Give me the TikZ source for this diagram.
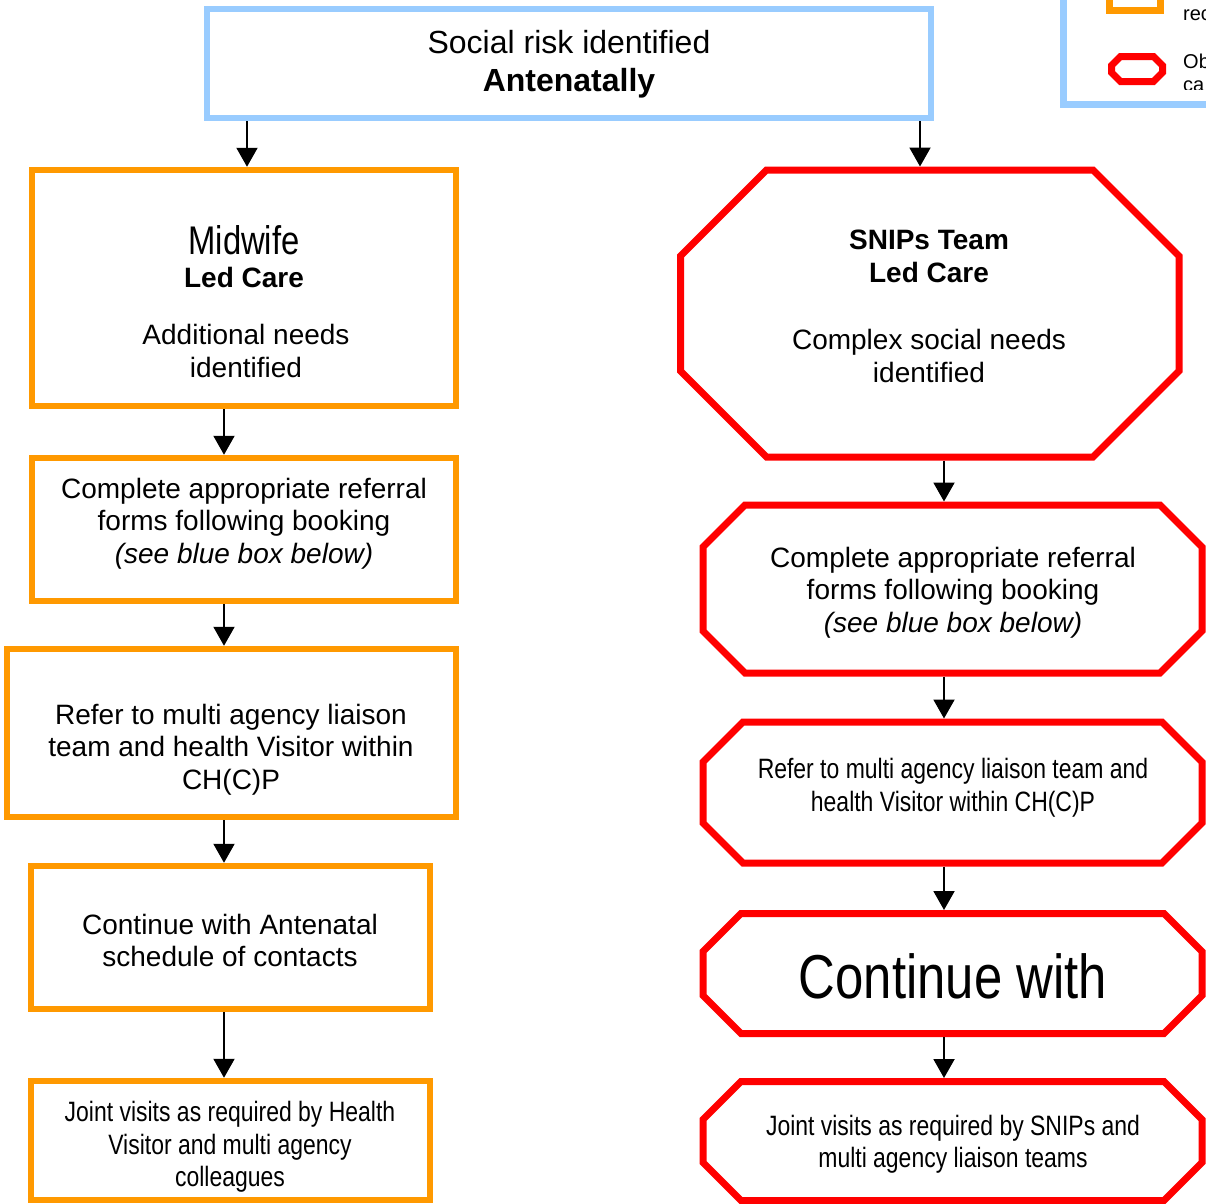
\documentclass[tikz,border=0pt]{standalone}
\usepackage{fontspec}
\setmainfont{Liberation Sans}
\newfontfamily\narrowf[FakeStretch=0.82]{Liberation Sans}
\usetikzlibrary{arrows.meta,calc}
\definecolor{borange}{RGB}{255,153,0}
\definecolor{bred}{RGB}{255,0,0}
\definecolor{bblue}{RGB}{153,204,255}
\newcommand\octoframe[2]{\draw[redline] ([xshift={3.5pt+#2},yshift=-3.5pt]#1.north west) -- ([xshift={-3.5pt-#2},yshift=-3.5pt]#1.north east) -- ([xshift=-3.5pt,yshift={-3.5pt-#2}]#1.north east) -- ([xshift=-3.5pt,yshift={3.5pt+#2}]#1.south east) -- ([xshift={-3.5pt-#2},yshift=3.5pt]#1.south east) -- ([xshift={3.5pt+#2},yshift=3.5pt]#1.south west) -- ([xshift=3.5pt,yshift={3.5pt+#2}]#1.south west) -- ([xshift=3.5pt,yshift={-3.5pt-#2}]#1.north west) -- cycle;}
\begin{document}
\begin{tikzpicture}[x=1pt,y=-1pt,
  obox/.style={draw=borange,line width=6.5pt,inner sep=0pt,shape=rectangle},
  obound/.style={inner sep=0pt,outer sep=0pt,shape=rectangle},
  redline/.style={draw=bred,line width=7pt,line join=miter},
  txt/.style={align=center,font=\fontsize{28}{32.5}\selectfont,inner sep=0pt},
  btxt/.style={align=center,font=\fontsize{28}{33}\selectfont\bfseries,inner sep=0pt},
  ntxt/.style={align=center,font=\narrowf\fontsize{28}{32.5}\selectfont,inner sep=0pt},
  arr/.style={-{Triangle[length=19pt,width=21pt]},line width=2pt}]

\useasboundingbox (0,0) rectangle (1206,1203);
\clip (0,0) rectangle (1206,1203);

\coordinate (xa) at (247,0);
\coordinate (xb) at (920,0);
\coordinate (xl) at (224,0);
\coordinate (xr) at (944,0);

% top box
\node[draw=bblue,line width=6pt,inner sep=0pt,minimum width=724pt,minimum height=109pt] (top) at (569,63.5) {};
\node[align=center,font=\fontsize{32}{38}\selectfont,inner sep=0pt] (toptxt) at (569,64.5) {Social risk identified\\\textbf{Antenatally}};

% legend (cropped)
\node[draw=bblue,line width=7pt,inner sep=0pt,minimum width=166.5pt,minimum height=124pt] (legend) at (1146.75,42) {};
\node[draw=borange,line width=7pt,inner sep=0pt,minimum width=51pt,minimum height=40.5pt] (lorange) at (1135,-9.75) {};
\node[obound,minimum width=58pt,minimum height=32pt] (lred) at (1137,69) {};
\octoframe{lred}{9pt}
\begin{scope}
\clip (1170,0) rectangle (1206,89);
\node[anchor=base west,inner sep=0pt,font=\fontsize{20}{23}\selectfont] (l1) at (1183,20) {rec};
\node[anchor=base west,inner sep=0pt,font=\fontsize{20}{23}\selectfont] (l2) at (1183,68) {Ob};
\node[anchor=base west,inner sep=0pt,font=\fontsize{20}{23}\selectfont] (l3) at (1183,91) {ca};
\end{scope}

% left column
\node[obox,minimum width=424pt,minimum height=236pt] (mw) at (244,288) {};
\node[inner sep=0pt,font=\narrowf\fontsize{40}{44}\selectfont] (mwt1) at (244,240) {Midwife};
\node[btxt] (mwt2) at (244,277) {Led Care};
\node[txt] (mwt3) at (246,351) {Additional needs\\identified};

\node[obox,minimum width=424pt,minimum height=143pt] (cf) at (244,529.5) {};
\node[txt] (cft) at (244,523.5) {Complete appropriate referral\\forms following booking\\\textit{(see blue box below)}};

\node[obox,minimum width=449pt,minimum height=168pt] (rf) at (231.5,733) {};
\node[txt] (rft) at (231,749.5) {Refer to multi agency liaison\\team and health Visitor within\\CH(C)P};

\node[obox,minimum width=399pt,minimum height=143pt] (ct) at (230.5,937.5) {};
\node[txt] (ctt) at (230,940.5) {Continue with Antenatal\\schedule of contacts};

\node[obox,minimum width=399pt,minimum height=119pt] (jv) at (230.5,1140.5) {};
\node[ntxt] (jvt) at (230,1147) {Joint visits as required by Health\\Visitor and multi agency\\colleagues};

% right column
\node[obound,minimum width=505.5pt,minimum height=294pt] (sn) at (929.75,313.5) {};
\octoframe{sn}{86pt}
\node[btxt] (snt1) at (929,256.5) {SNIPs Team\\Led Care};
\node[txt] (snt2) at (929,356) {Complex social needs\\identified};

\node[obound,minimum width=506pt,minimum height=175pt] (rc) at (952.5,589) {};
\octoframe{rc}{42pt}
\node[txt] (rct) at (953,592.5) {Complete appropriate referral\\forms following booking\\\textit{(see blue box below)}};

\node[obound,minimum width=506pt,minimum height=148pt] (rr) at (952.5,792.5) {};
\octoframe{rr}{40pt}
\node[ntxt] (rrt) at (953,787.5) {Refer to multi agency liaison team and\\health Visitor within CH(C)P};

\node[obound,minimum width=506pt,minimum height=127pt] (rt) at (952.5,973.5) {};
\octoframe{rt}{38pt}
\node[inner sep=0pt,font=\narrowf\fontsize{62}{68}\selectfont] (rtt) at (953,976) {Continue with};

\node[obound,minimum width=506pt,minimum height=126pt] (rj) at (952.5,1141) {};
\octoframe{rj}{38pt}
\node[ntxt] (rjt) at (953,1144) {Joint visits as required by SNIPs and\\multi agency liaison teams};

% connectors
\draw[arr] (top.south -| xa) -- (mw.north -| xa);
\draw[arr] (top.south -| xb) -- (sn.north -| xb);
\draw[arr] (mw.south -| xl) -- (cf.north -| xl);
\draw[arr] (cf.south -| xl) -- (rf.north -| xl);
\draw[arr] (rf.south -| xl) -- (ct.north -| xl);
\draw[arr] (ct.south -| xl) -- (jv.north -| xl);
\draw[arr] (sn.south -| xr) -- (rc.north -| xr);
\draw[arr] (rc.south -| xr) -- (rr.north -| xr);
\draw[arr] (rr.south -| xr) -- (rt.north -| xr);
\draw[arr] (rt.south -| xr) -- (rj.north -| xr);
\end{tikzpicture}
\end{document}
